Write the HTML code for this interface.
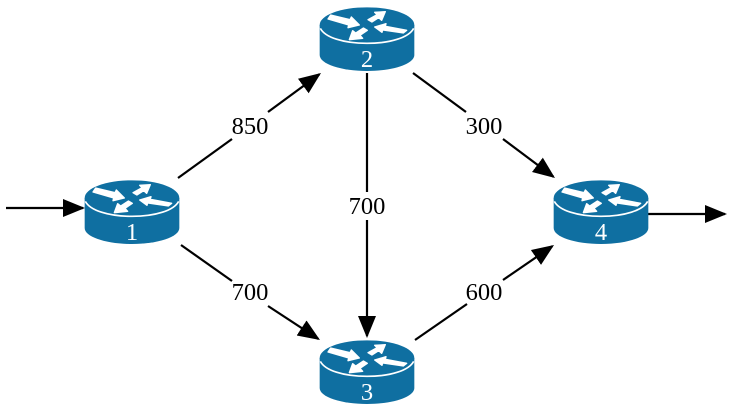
<!DOCTYPE html>
<html>
<head>
<meta charset="utf-8">
<style>
html,body{margin:0;padding:0;background:#fff}
svg{display:block}
text{font-family:"Liberation Serif",serif;font-size:24.5px;text-anchor:middle}
.e{stroke:#000;stroke-width:2.2;fill:none;marker-end:url(#a)}
.s{stroke:#000;stroke-width:2.2;fill:none}
</style>
</head>
<body>
<svg width="741" height="416" viewBox="0 0 741 416" xmlns="http://www.w3.org/2000/svg">
<defs>
<marker id="a" markerUnits="userSpaceOnUse" markerWidth="24" markerHeight="20" refX="20" refY="9" orient="auto">
<path d="M0 0L22 9L0 18z" fill="#000"/>
</marker>
<g id="r" transform="scale(.3333) translate(-171,-81)">
<path d="M29 84V174C29 201 94 222 171 222S313 201 313 174V84z" fill="#0f6fa1"/>
<ellipse cx="171" cy="84" rx="142" ry="53" fill="#0f6fa1"/>
<path d="M31 94C45 121 100 139 171 139S297 121 311 94" fill="none" stroke="#fff" stroke-width="5"/>
<g fill="#fff" stroke="#fff" stroke-width="4" stroke-linejoin="round">
<polygon points="54,66 62,54 120,68 124,60 148,84 114,92 116,84"/>
<polygon points="174,68 186,75 206,62 215,70 226,44 194,46 201,53"/>
<polygon points="194,90 228,80 226,88 290,100 280,108 218,99 216,106"/>
<polygon points="118,128 158,124 150,115 172,100 160,93 137,108 128,101"/>
</g>
</g>
</defs>

<line class="e" x1="6" y1="208" x2="83" y2="208"/>
<line class="e" x1="648" y1="214" x2="725" y2="214"/>

<line class="s" x1="178" y1="178" x2="232" y2="139"/>
<line class="e" x1="268" y1="112" x2="319.4" y2="74.2"/>

<line class="s" x1="413" y1="73" x2="466" y2="112"/>
<line class="e" x1="503" y1="139" x2="553.4" y2="176.8"/>

<line class="s" x1="367" y1="73" x2="367" y2="192"/>
<line class="e" x1="367" y1="220" x2="367" y2="336"/>

<line class="s" x1="181" y1="245" x2="232" y2="281"/>
<line class="e" x1="268" y1="306" x2="318.3" y2="338.9"/>

<line class="s" x1="415" y1="340" x2="467" y2="304"/>
<line class="e" x1="503" y1="280" x2="552.4" y2="246.1"/>

<use href="#r" transform="translate(132,197)"/>
<use href="#r" transform="translate(367,24)"/>
<use href="#r" transform="translate(367,357)"/>
<use href="#r" transform="translate(601,197)"/>

<g fill="#fff">
<text x="132" y="240">1</text>
<text x="367" y="67">2</text>
<text x="367" y="400">3</text>
<text x="601" y="240">4</text>
</g>
<g fill="#000">
<text x="250" y="134">850</text>
<text x="484" y="134">300</text>
<text x="367" y="214">700</text>
<text x="250" y="300">700</text>
<text x="484" y="300">600</text>
</g>
</svg>
</body>
</html>
